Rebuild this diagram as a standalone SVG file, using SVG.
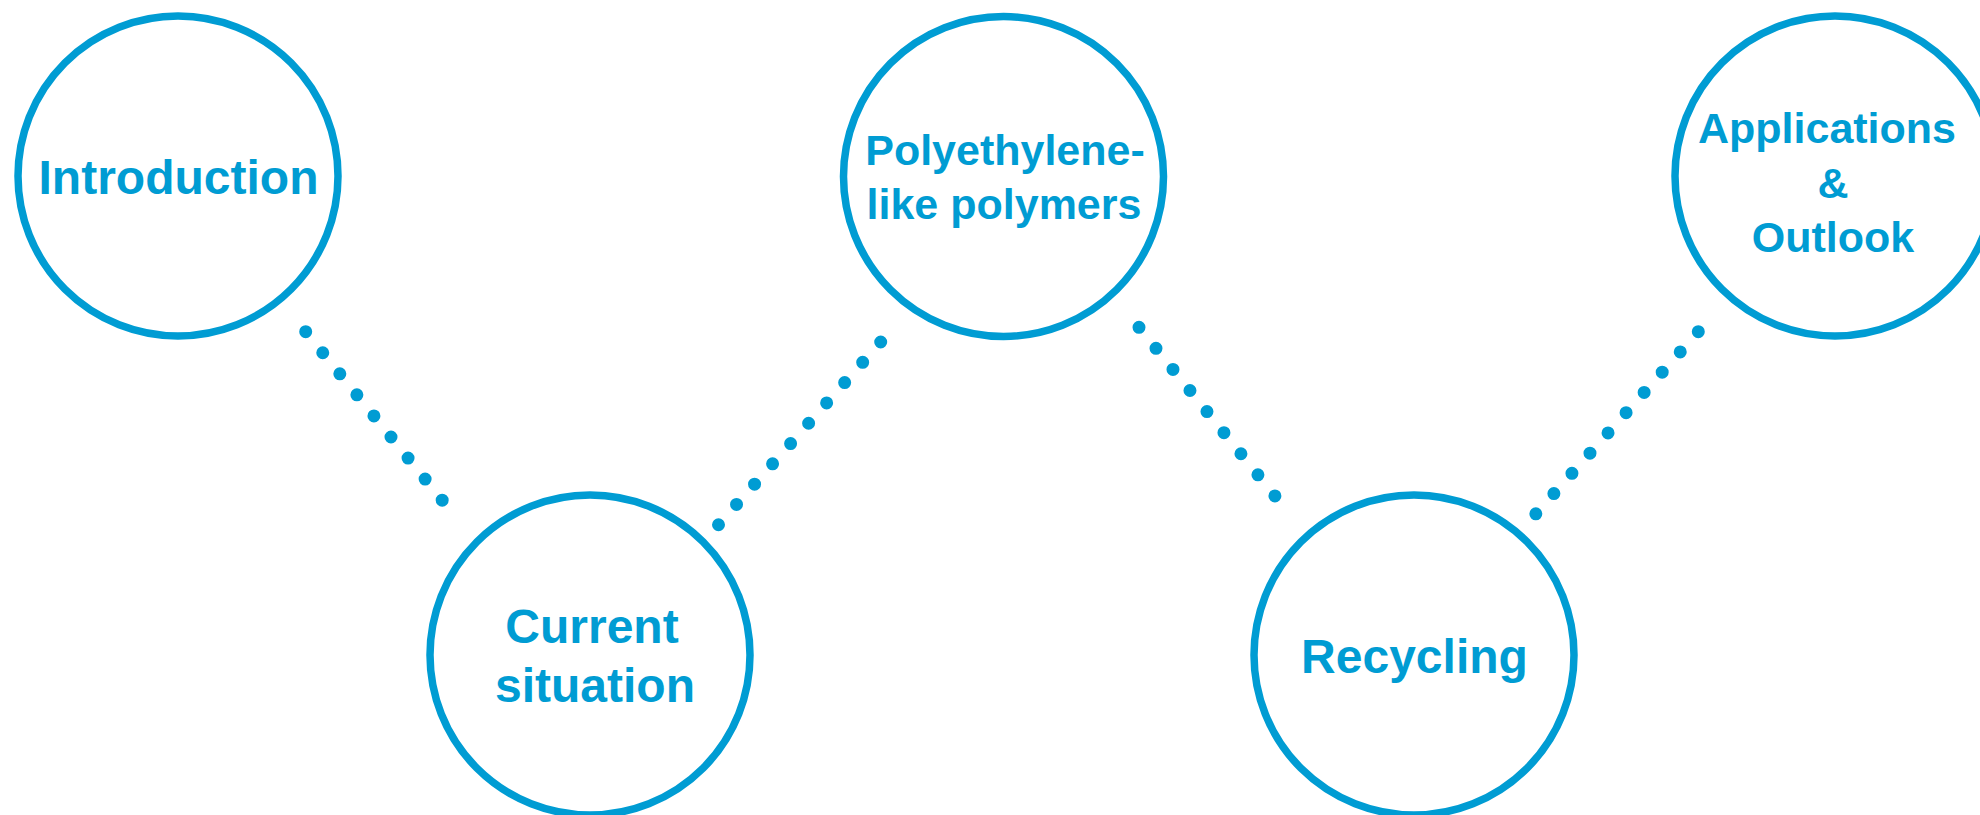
<svg xmlns="http://www.w3.org/2000/svg" width="1980" height="815" viewBox="0 0 1980 815">
<style>
.node circle{fill:#fff;stroke:#009CD3;stroke-width:7.5}
.node text{font-family:"Liberation Sans",Arial,sans-serif;font-weight:bold;fill:#009CD3;text-anchor:middle}
.t48{font-size:48px}
.t43{font-size:43px}
.dots line{stroke:#009CD3;stroke-width:13;stroke-linecap:round;fill:none}
</style>
<rect width="1980" height="815" fill="#fff"/>
<g id="connectors" class="dots">
<line x1="305.7" y1="331.7" x2="442.3" y2="500.3" stroke-dasharray="0 27.1"/>
<line x1="880.7" y1="342" x2="718.3" y2="525" stroke-dasharray="0 27.15"/>
<line x1="1139" y1="327.3" x2="1275" y2="496" stroke-dasharray="0 27.07"/>
<line x1="1698.3" y1="331.7" x2="1535.7" y2="514" stroke-dasharray="0 27.12"/>
</g>
<g id="introduction" class="node">
<circle cx="178" cy="176" r="160"/>
<text class="t48" x="178.5" y="194">Introduction</text>
</g>
<g id="current-situation" class="node">
<circle cx="590" cy="655" r="160"/>
<text class="t48" x="592" y="643">Current</text>
<text class="t48" x="595" y="702">situation</text>
</g>
<g id="polyethylene" class="node">
<circle cx="1003.5" cy="176.5" r="160"/>
<text class="t43" x="1005" y="165">Polyethylene-</text>
<text class="t43" x="1004" y="219">like polymers</text>
</g>
<g id="recycling" class="node">
<circle cx="1414" cy="655" r="160"/>
<text class="t48" x="1414.5" y="673">Recycling</text>
</g>
<g id="applications" class="node">
<circle cx="1835" cy="176" r="160"/>
<text class="t43" x="1827" y="143">Applications</text>
<text class="t43" x="1833" y="198">&amp;</text>
<text class="t43" x="1833" y="252">Outlook</text>
</g>
</svg>
